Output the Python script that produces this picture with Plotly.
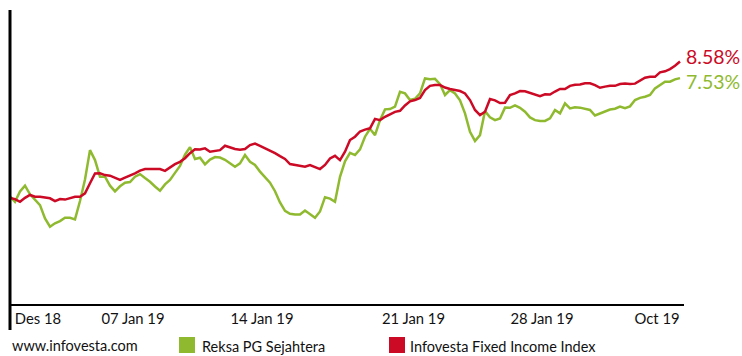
import plotly.graph_objects as go

# Cumulative return (%) sampled at regular steps
idx = list(range(135))
index_fixed_income = [
    -0.06, -0.13, -0.30, -0.05, 0.13, 0.02, 0.02, -0.01, -0.08, -0.26,
    -0.13, -0.16, -0.08, 0.02, 0.02, 0.23, 0.87, 1.49, 1.50, 1.39,
    1.35, 1.23, 1.08, 1.23, 1.35, 1.50, 1.67, 1.77, 1.77, 1.77,
    1.77, 1.66, 1.89, 2.08, 2.23, 2.46, 2.78, 3.02, 3.01, 3.08,
    2.87, 2.94, 2.97, 3.25, 3.13, 3.04, 2.99, 3.04, 3.29, 3.38,
    3.24, 3.10, 2.97, 2.78, 2.59, 2.41, 2.09, 2.02, 1.96, 1.92,
    2.03, 1.92, 1.77, 2.03, 2.44, 2.61, 2.34, 2.87, 3.61, 3.82,
    4.15, 4.27, 4.35, 4.95, 4.87, 5.08, 5.25, 5.39, 5.46, 5.80,
    6.06, 6.14, 6.27, 6.77, 7.04, 7.09, 7.09, 6.93, 6.84, 6.77,
    6.71, 6.56, 6.14, 5.51, 5.19, 5.40, 6.20, 6.12, 5.95, 5.97,
    6.46, 6.56, 6.71, 6.69, 6.59, 6.47, 6.39, 6.50, 6.49, 6.68,
    6.84, 6.84, 7.04, 7.11, 7.13, 7.20, 7.20, 7.09, 6.92, 6.99,
    7.04, 7.04, 7.15, 7.18, 7.15, 7.18, 7.39, 7.55, 7.61, 7.61,
    7.89, 7.96, 8.10, 8.31, 8.58,
]
reksa_pg = [
    0.04, -0.30, 0.35, 0.72, 0.17, -0.16, -0.51, -1.35, -1.88, -1.66,
    -1.52, -1.31, -1.31, -1.41, -0.25, 1.11, 2.97, 2.34, 1.28, 1.29,
    0.72, 0.36, 0.68, 0.91, 0.95, 1.29, 1.45, 1.20, 0.97, 0.67,
    0.40, 0.80, 1.08, 1.53, 1.97, 2.68, 3.16, 2.41, 2.49, 2.07,
    2.37, 2.53, 2.50, 2.36, 2.13, 1.92, 2.13, 2.66, 2.23, 2.03,
    1.61, 1.25, 0.91, 0.37, -0.34, -0.88, -1.06, -1.11, -1.11, -0.85,
    -1.11, -1.31, -0.91, -0.01, -0.10, -0.30, 1.28, 2.26, 2.80, 2.66,
    3.02, 3.82, 4.32, 3.92, 4.87, 5.55, 5.57, 5.72, 6.66, 6.56,
    6.14, 6.22, 6.56, 7.51, 7.45, 7.48, 7.15, 6.46, 6.77, 6.56,
    6.12, 5.30, 4.13, 3.55, 3.92, 5.44, 5.05, 4.87, 4.97, 5.66,
    5.65, 5.80, 5.65, 5.40, 5.04, 4.87, 4.81, 4.82, 4.98, 5.51,
    5.30, 5.93, 5.61, 5.68, 5.66, 5.58, 5.51, 5.16, 5.30, 5.40,
    5.54, 5.59, 5.73, 5.63, 5.74, 6.14, 6.28, 6.35, 6.46, 6.88,
    7.09, 7.30, 7.30, 7.45, 7.53,
]
tick_pos = [5.6, 24.6, 50.4, 80.7, 106.4, 129.4]
tick_text = ["Des 18", "07 Jan 19", "14 Jan 19", "21 Jan 19", "28 Jan 19", "Oct 19"]
series_names = ["Reksa PG Sejahtera", "Infovesta Fixed Income Index"]

RED = "#cc0a26"
GREEN = "#8fba2f"
FONT = "Lato"

fig = go.Figure()
fig.add_trace(go.Scatter(x=idx, y=reksa_pg, mode="lines",
                         line=dict(color=GREEN, width=2.5), name=series_names[0],
                         showlegend=False))
fig.add_trace(go.Scatter(x=idx, y=index_fixed_income, mode="lines",
                         line=dict(color=RED, width=2.5), name=series_names[1],
                         showlegend=False))

# end labels
fig.add_annotation(x=idx[-1], y=index_fixed_income[-1], text=f"{index_fixed_income[-1]:.2f}%",
                   showarrow=False, xanchor="left", yanchor="middle", xshift=4, yshift=5,
                   font=dict(family=FONT, size=19.5, color=RED))
fig.add_annotation(x=idx[-1], y=reksa_pg[-1], text=f"{reksa_pg[-1]:.2f}%",
                   showarrow=False, xanchor="left", yanchor="middle", xshift=4, yshift=-3,
                   font=dict(family=FONT, size=19.5, color=GREEN))

W, H = 742, 356
L, R, T, B = 10, 58, 10, 52
pw, ph = W - L - R, H - T - B

def px(x):
    return (x - L) / pw

def py(y):
    return (H - B - y) / ph

# bottom legend row
fig.add_annotation(xref="paper", yref="paper", x=px(10), y=py(345), text="www.infovesta.com",
                   showarrow=False, xanchor="left", yanchor="middle",
                   font=dict(family=FONT, size=14.5, color="#111"))
fig.add_shape(type="rect", xref="paper", yref="paper", x0=px(179), x1=px(195),
              y0=py(353), y1=py(337), fillcolor=GREEN, line=dict(width=0))
fig.add_annotation(xref="paper", yref="paper", x=px(200), y=py(346), text=series_names[0],
                   showarrow=False, xanchor="left", yanchor="middle",
                   font=dict(family=FONT, size=14.5, color="#111"))
fig.add_shape(type="rect", xref="paper", yref="paper", x0=px(389), x1=px(405),
              y0=py(353), y1=py(337), fillcolor=RED, line=dict(width=0))
fig.add_annotation(xref="paper", yref="paper", x=px(408), y=py(346), text=series_names[1],
                   showarrow=False, xanchor="left", yanchor="middle",
                   font=dict(family=FONT, size=14.5, color="#111"))

# left vertical axis line extending below x axis
fig.add_shape(type="line", xref="paper", yref="paper", x0=0, x1=0, y0=py(330), y1=1,
              line=dict(color="black", width=3))

fig.update_layout(
    width=W, height=H,
    margin=dict(l=L, r=R, t=T, b=B),
    paper_bgcolor="white", plot_bgcolor="white",
    xaxis=dict(range=[0, 134.8], tickvals=tick_pos, ticktext=tick_text,
               showgrid=False, zeroline=False, showline=True, linecolor="black",
               linewidth=2, ticks="", tickfont=dict(family=FONT, size=14.8, color="#111")),
    yaxis=dict(range=[-6.77, 11.84], showgrid=False, zeroline=False,
               showticklabels=False, showline=False),
)

fig.write_html("out.html")
